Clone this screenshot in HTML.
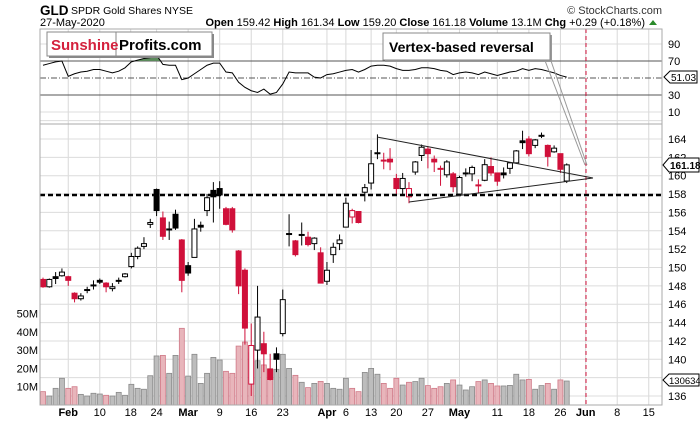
<!DOCTYPE html>
<html><head><meta charset="utf-8"><style>
html,body{margin:0;padding:0;background:#fff;}
svg{display:block;font-family:"Liberation Sans",sans-serif;}
</style></head><body>
<svg id="chart" width="700" height="421" viewBox="0 0 700 421" xmlns="http://www.w3.org/2000/svg">
<rect x="0" y="0" width="700" height="421" fill="#fff"/>
<g>
<text x="40" y="15" font-size="13.5" font-weight="bold" fill="#000">GLD</text>
<text x="71" y="14" font-size="10.5" fill="#000">SPDR Gold Shares  NYSE</text>
<text x="662" y="14" font-size="11" fill="#333" text-anchor="end">© StockCharts.com</text>
<text x="40" y="26" font-size="11" fill="#000">27-May-2020</text>
<text x="645" y="26" font-size="11" fill="#000" text-anchor="end"><tspan font-weight="bold">Open</tspan> 159.42 <tspan font-weight="bold">High</tspan> 161.34 <tspan font-weight="bold">Low</tspan> 159.20 <tspan font-weight="bold">Close</tspan> 161.18 <tspan font-weight="bold">Volume</tspan> 13.1M <tspan font-weight="bold">Chg</tspan> +0.29 (+0.18%)</text>
<path d="M649 25 L657 25 L653 20 Z" fill="#2a8a2a"/>
</g>
<g id="grid"></g>
<g id="rsi"></g>
<g id="vol"></g>
<g id="candles"></g>
<g id="annot"></g>
<g id="axes"></g>
</svg>
<script>
const opens=[148.7,147.9,149.0,149.1,149.0,147.2,146.6,147.6,148.0,148.6,148.3,147.7,148.6,149.0,150.1,151.2,152.3,154.7,158.5,155.4,154.2,155.8,153.0,150.2,151.1,154.6,156.2,158.4,158.6,156.4,156.4,151.8,149.7,137.3,141.0,141.7,138.9,140.6,142.8,153.7,152.9,153.6,153.3,152.6,151.6,148.5,151.4,152.6,154.4,155.5,156.1,158.2,159.2,162.5,161.7,161.8,159.7,158.6,157.7,160.4,162.2,162.9,161.8,160.8,160.1,160.2,158.0,160.3,160.2,159.0,159.5,161.0,160.3,160.3,160.8,161.4,163.8,164.0,163.3,164.4,163.3,162.6,162.4,159.42];
const highs=[148.9,148.8,149.5,149.9,149.1,147.3,147.2,147.9,148.6,148.8,148.4,148.3,148.9,149.4,151.6,152.3,153.3,155.3,158.6,156.1,155.0,156.3,153.1,150.6,155.3,155.0,158.0,159.3,159.4,156.6,156.6,151.9,149.9,143.9,148.0,143.0,140.6,141.3,147.6,155.8,153.0,154.9,153.9,153.3,152.2,150.6,152.7,153.6,157.6,156.4,156.1,159.1,162.8,164.5,162.5,163.0,160.2,160.3,159.3,161.6,163.4,163.2,162.2,161.1,161.7,160.4,160.0,160.8,161.1,159.6,161.8,162.0,160.3,160.9,161.4,162.8,164.9,164.3,164.0,164.7,163.4,163.3,162.4,161.34];
const lows=[147.8,147.8,148.2,149.0,148.0,146.2,146.4,147.2,147.6,148.2,147.3,147.4,148.2,148.9,149.9,150.9,152.0,154.3,155.6,153.0,153.0,154.1,147.3,149.1,151.1,153.9,155.6,154.9,156.4,154.6,153.8,147.1,141.6,136.0,139.0,138.6,137.7,138.6,142.5,152.3,151.2,152.4,152.3,151.9,148.3,148.1,150.5,151.9,154.4,154.8,154.8,157.2,158.5,161.8,160.7,160.6,158.0,158.0,157.0,160.1,161.6,160.8,160.4,158.9,159.8,158.2,157.8,159.9,159.4,158.1,159.4,160.0,158.9,159.7,160.2,161.4,162.9,162.1,163.0,164.1,161.0,162.5,160.3,159.2];
const closes=[147.9,148.7,148.8,149.5,148.6,146.6,146.9,147.5,148.1,148.4,147.9,147.9,148.5,149.3,151.2,152.1,152.6,154.9,156.2,153.4,154.1,154.3,148.6,149.4,154.2,154.4,157.6,157.7,157.9,154.7,154.1,148.0,143.4,141.5,144.6,140.6,137.8,140.0,146.5,153.6,151.4,153.5,152.5,153.2,148.3,149.7,152.2,153.0,157.0,156.2,154.9,158.7,161.3,162.4,161.7,161.5,158.6,159.7,158.6,161.5,163.1,162.4,161.5,160.8,161.5,158.8,159.8,160.2,160.9,158.9,161.2,160.3,159.4,160.1,161.4,162.7,163.6,162.4,163.9,164.3,162.1,163.0,160.7,161.18];
const volumes=[7.3,4.9,9.1,14.6,9.1,10.0,5.8,4.9,6.4,6.0,5.3,4.9,6.9,5.3,11.3,9.1,8.6,16.0,26.8,27.1,17.3,27.1,41.9,15.8,27.7,11.8,17.3,26.0,24.6,18.4,17.3,32.2,34.4,28.6,24.2,21.9,20.0,19.5,27.7,20.0,16.2,12.4,9.5,11.8,12.9,11.8,9.1,8.6,14.6,9.1,7.3,17.8,20.0,16.8,11.8,9.1,14.6,10.9,12.4,12.8,14.6,10.6,9.1,10.0,11.8,13.7,10.9,8.2,10.0,12.8,13.7,11.8,10.4,10.4,10.7,16.8,13.7,14.0,8.6,10.6,11.8,8.6,13.7,13.1];
const rsiValues=[65,67,69,70,52,55,57,58,60,60,58,56,58,62,69,71,73,74,77,66,65,65,48,50,55,60,65,67.5,67.5,57,56,45,39,35,33,37,31,33,43,57,56,56,56,51,50,54,55,57,59,60,57,60,64,65,65,64,61,59,59,60,62,62,61,59,58,54,56,57,56,54,57,55,53,55,57,58,61,59,61,60,58,56,53,51.03];
const firstPrevClose=148.9;
const tickDates=[["Feb",4,1],["10",9,0],["18",13.9,0],["24",18,0],["Mar",23,1],["9",28,0],["16",33,0],["23",38,0],["Apr",45,1],["6",48,0],["13",52,0],["20",56,0],["27",61,0],["May",66,1],["11",72,0],["18",77,0],["26",82,0],["Jun",86,1],["8",91,0],["15",96,0]];
const priceTicks=[136,138,140,142,144,146,148,150,152,154,156,158,160,162,164];
const rsiTicks=[90,70,30,10];
const volTicks=[10,20,30,40,50];

const NS="http://www.w3.org/2000/svg";
const L=40,R=662,RT=29,RB=124,PT=124,PB=405;
function xS(i){return 43+i*6.31;}
function yP(p){return 175.7+(160-p)*9.18;}
function yV(v){return 405-v*1.83;}
function yR(r){return 61+(70-r)*0.85;}
function mk(parent,tag,attrs){const e=document.createElementNS(NS,tag);for(const k in attrs)e.setAttribute(k,attrs[k]);parent.appendChild(e);return e;}
const grid=document.getElementById('grid'),rsiG=document.getElementById('rsi'),volG=document.getElementById('vol'),cG=document.getElementById('candles'),an=document.getElementById('annot'),ax=document.getElementById('axes');

tickDates.forEach(t=>{const x=xS(t[1]);
 const l=mk(grid,'line',{x1:x,x2:x,y1:RT,y2:PB,stroke:'#d8d8d8','stroke-width':1});
 
 
 const tx=mk(ax,'text',{x:x,y:416,'font-size':11,'text-anchor':'middle','font-weight':t[2]?'bold':'normal',fill:'#000'});
 tx.textContent=t[0];
 
 
});
priceTicks.forEach(p=>{const y=yP(p);
 const l=mk(grid,'line',{x1:L,x2:R,y1:y,y2:y,stroke:'#dcdcdc','stroke-width':1});
 
 
 const tx=mk(ax,'text',{x:668,y:y+4,'font-size':11,fill:'#000'});
 tx.textContent=p;
 
 
});
[166].forEach(p=>{const y=yP(p);const l=mk(grid,'line',{x1:L,x2:R,y1:y,y2:y,stroke:'#dcdcdc'});
 
 });
[90,10].forEach(r=>{const y=yR(r);const l=mk(grid,'line',{x1:L,x2:R,y1:y,y2:y,stroke:'#dcdcdc'});
 
 });
rsiTicks.forEach(r=>{const y=yR(r);
 if(r===70||r===30){const l=mk(rsiG,'line',{x1:L,x2:R,y1:y,y2:y,stroke:'#555','stroke-width':1});
 
 }
 const tx=mk(ax,'text',{x:668,y:y+4,'font-size':11,fill:'#000'});
 tx.textContent=r;
 
 
});
const mid=mk(rsiG,'line',{x1:L,x2:R,y1:yR(50),y2:yR(50),stroke:'#555','stroke-dasharray':'6,2,1,2'});


(function(){let path='';for(let i=1;i<rsiValues.length;i++){const a=rsiValues[i-1],b=rsiValues[i];if(a<=70&&b<=70)continue;
 const x0=xS(i-1),x1=xS(i);let xa=x0,ya=yR(a),xb=x1,yb=yR(b);
 if(a<70){xa=x0+(70-a)/(b-a)*(x1-x0);ya=yR(70);} if(b<70){xb=x0+(a-70)/(a-b)*(x1-x0);yb=yR(70);}
 path+=`M${xa},${yR(70)} L${xa},${ya} L${xb},${yb} L${xb},${yR(70)} Z `;}
 const f=mk(rsiG,'path',{d:path,fill:'#5b8a5b',stroke:'none'});
 
 })();
const rl=mk(rsiG,'polyline',{points:rsiValues.map((r,i)=>xS(i)+','+yR(r)).join(' '),fill:'none',stroke:'#000','stroke-width':1});


[[L,RT,R-L,RB-RT],[L,PT,R-L,PB-PT]].forEach(b=>{const r=mk(ax,'rect',{x:b[0],y:b[1],width:b[2],height:b[3],fill:'none',stroke:'#aaa'});
 
 });
volTicks.forEach(v=>{const tx=mk(ax,'text',{x:38,y:yV(v)+4,'font-size':11,'text-anchor':'end',fill:'#000'});
 tx.textContent=v+'M';
 
 });
closes.forEach((c,i)=>{const prev=i?closes[i-1]:firstPrevClose;const down=c<prev;const x=xS(i);
 const vb=mk(volG,'rect',{x:x-2.5,y:yV(volumes[i]),width:5,height:volumes[i]*1.83,fill:down?'#e8b5bb':'#bdbdbd',stroke:down?'#d07a88':'#8a8a8a','stroke-width':0.8});
 
 
 const col=down?'#d0103a':'#000';const o=opens[i];
 const w=mk(cG,'line',{x1:x,x2:x,y1:yP(highs[i]),y2:yP(lows[i]),stroke:col,'stroke-width':1});
 
 
 const top=yP(Math.max(o,c)),bot=yP(Math.min(o,c));const hollow=c>=o;
 const b=mk(cG,'rect',{x:x-2.5,y:top,width:5,height:Math.max(bot-top,1),fill:hollow?'#fff':col,stroke:col,'stroke-width':1});
 
 
});
function line(d,name,attrs){const e=mk(an,'line',Object.assign({x1:d[0],y1:d[1],x2:d[2],y2:d[3]},attrs));
 
 return e;}
line([L,195,R,195],'support-dashed-line',{stroke:'#000','stroke-width':2.5,'stroke-dasharray':'5,3'});
line([586,RT,586,PB],'june-dashed-marker',{stroke:'#d0103a','stroke-width':1,'stroke-dasharray':'4,3'});
line([377,137,593,178],'triangle-upper-line',{stroke:'#222','stroke-width':1});
line([409,202,593,178],'triangle-lower-line',{stroke:'#222','stroke-width':1});
line([544,58,585,165],'callout-pointer-a',{stroke:'#999','stroke-width':1});
line([550,58,587,165],'callout-pointer-b',{stroke:'#999','stroke-width':1});
</script>
<svg style="position:absolute;left:0;top:0" width="700" height="421">
<g>
<rect x="49" y="34" width="165" height="24" fill="#888"/>
<rect x="47" y="32" width="165" height="24" fill="#fff" stroke="#888"/>
<line x1="116" y1="32" x2="116" y2="56" stroke="#888"/>
<text x="51" y="50" font-family="Liberation Sans, sans-serif" font-size="15" font-weight="bold" fill="#d4213d">Sunshine</text>
<text x="119" y="50" font-family="Liberation Sans, sans-serif" font-size="15" font-weight="bold" fill="#000">Profits.com</text>
</g>
<g>
<rect x="385" y="35" width="167" height="27" fill="#999"/>
<rect x="383" y="33" width="167" height="27" fill="#fff" stroke="#888"/>
<text x="389" y="52" font-family="Liberation Sans, sans-serif" font-size="14" font-weight="bold" fill="#000">Vertex-based reversal</text>
</g>
<g>
<path d="M664 77 L670 71 L697 71 L697 83 L670 83 Z" fill="#fff" stroke="#000"/>
<text x="671" y="81" font-family="Liberation Sans, sans-serif" font-size="10" fill="#000">51.03</text>
</g>
<g>
<path d="M663 165 L669 158 L699 158 L699 172 L669 172 Z" fill="#fff" stroke="#000"/>
<text x="670" y="169" font-family="Liberation Sans, sans-serif" font-size="10" font-weight="bold" fill="#000">161.18</text>
</g>
<g>
<path d="M663 380 L669 374 L699 374 L699 386 L669 386 Z" fill="#fff" stroke="#000"/>
<text x="669" y="384" font-family="Liberation Sans, sans-serif" font-size="9.5" fill="#000">130634</text>
</g>
</svg>
</body></html>
